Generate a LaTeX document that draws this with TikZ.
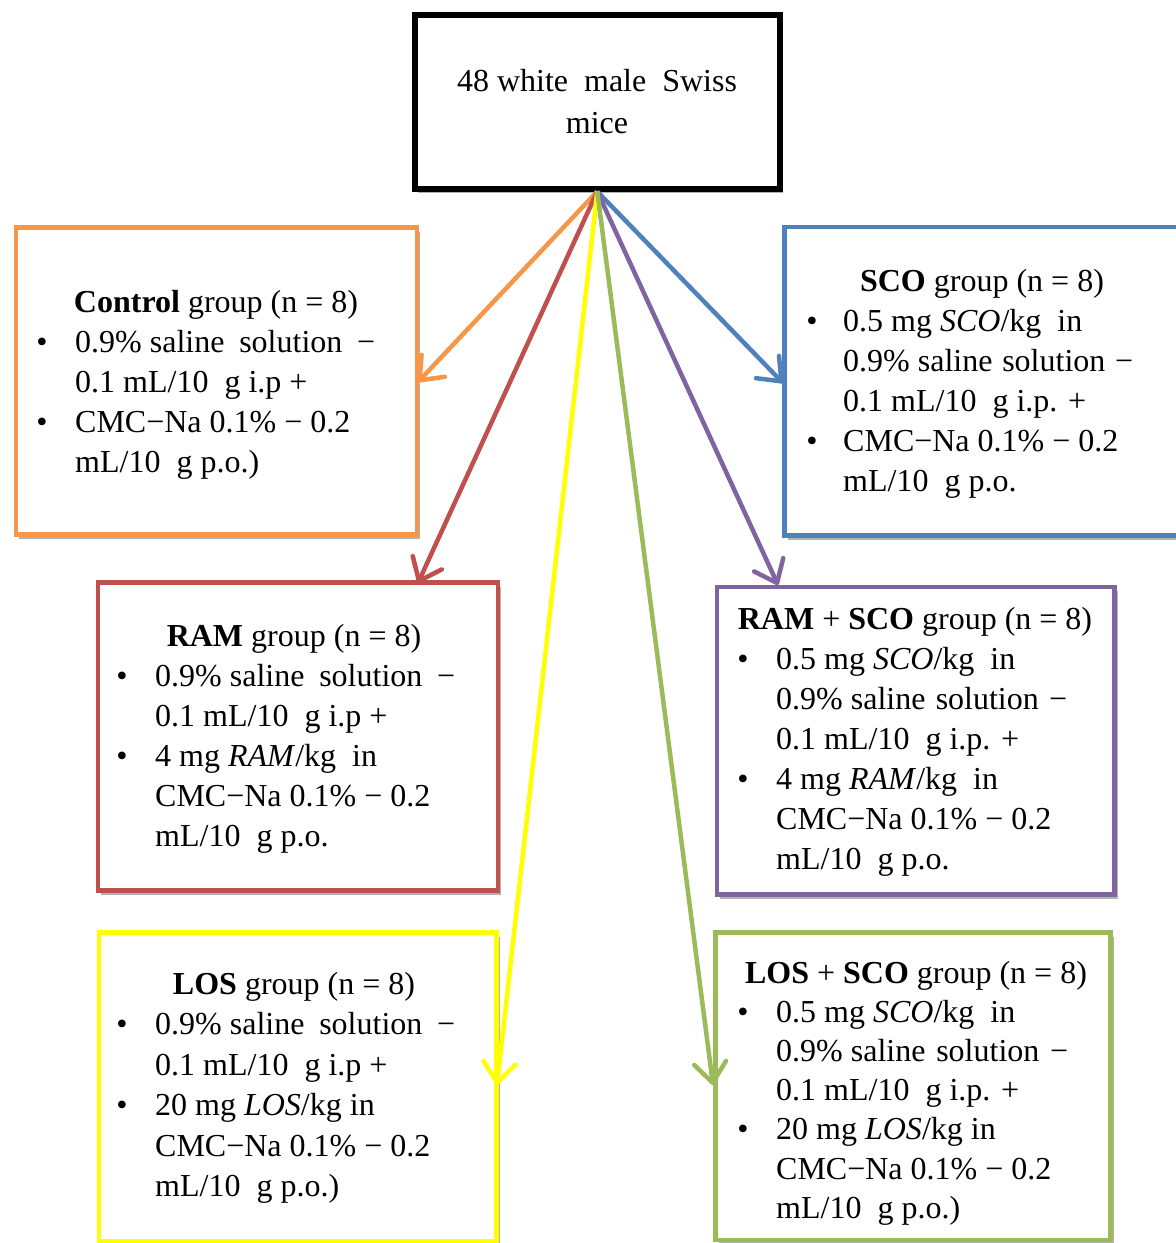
\documentclass[tikz,border=0pt]{standalone}
\usepackage{fontspec}
\setmainfont{Liberation Serif}
\usetikzlibrary{arrows.meta,shadows}
\definecolor{cOrange}{HTML}{F79646}
\definecolor{cBlue}{HTML}{4F81BD}
\definecolor{cRed}{HTML}{C0504D}
\definecolor{cPurple}{HTML}{8064A2}
\definecolor{cYellow}{HTML}{FFFF00}
\definecolor{cGreen}{HTML}{9BBB59}
\newcommand\salline[1]{\makebox[#1][s]{0.9\%~saline\ \hfill solution\ \hfill −}}
\newcommand\glines[5]{\foreach \t [count=\i] in {#5} {\node[txt] (#1-\i) at (#2, {#3 + #4*(\i-1)}) {\t};}}
\begin{document}
\begin{tikzpicture}[x=1pt,y=-1pt,
  gbox/.style={rectangle, draw, line width=4.5pt, fill=white, inner sep=0pt,
    drop shadow={shadow xshift=3pt, shadow yshift=-4pt, opacity=0.3, fill=black}},
  txt/.style={anchor=base west, inner sep=0pt, font=\fontsize{32}{40}\selectfont},
  ttl/.style={anchor=base, inner sep=0pt, font=\fontsize{32}{40}\selectfont},
  bul/.style={anchor=base, inner sep=0pt, font=\fontsize{32}{40}\selectfont},
  arr/.style={line width=4.5pt, -{Straight Barb[length=20pt,width=32pt,round]}}]
\clip (0,0) rectangle (1176,1243);
\fill[white] (0,0) rectangle (1176,1243);

% boxes
\node[gbox, draw=black, line width=6pt, minimum width=365.5pt, minimum height=174pt] (top) at (597.25,101.5) {};
\node[gbox, draw=cOrange, minimum width=401pt, minimum height=307pt] (ctrl) at (216.5,381) {};
\node[gbox, draw=cBlue, minimum width=400.5pt, minimum height=308.5pt] (sco) at (984.75,381.25) {};
\node[gbox, draw=cRed, minimum width=400pt, minimum height=308pt] (ram) at (298,736.5) {};
\node[gbox, draw=cPurple, minimum width=397.5pt, minimum height=307.5pt] (ramsco) at (915.75,740.75) {};
\node[gbox, draw=cYellow, minimum width=397.5pt, minimum height=308.5pt] (los) at (297.75,1086.75) {};
\node[gbox, draw=cGreen, minimum width=395pt, minimum height=307.5pt] (lossco) at (913,1086.25) {};

% top text
\node[ttl] (top-1) at (597,91) {48 white\ \ male\ \ Swiss};
\node[ttl] (top-2) at (597,133) {mice};

% Control
\node[ttl] (ctrl-t) at (216,312) {\textbf{Control} group (n = 8)};
\node[bul] (ctrl-b1) at (42,352) {\textbullet};
\node[bul] (ctrl-b2) at (42,432) {\textbullet};
\glines{ctrl}{75}{352}{40}{\salline{300pt}, 0.1 mL/10\ \ g i.p +, CMC−Na 0.1\% − 0.2, mL/10\ \ g p.o.)}

% SCO
\node[ttl] (sco-t) at (982,291) {\textbf{SCO} group\ (n = 8)};
\node[bul] (sco-b1) at (812,331) {\textbullet};
\node[bul] (sco-b2) at (812,451) {\textbullet};
\glines{sco}{843}{331}{40}{0.5 mg \textit{SCO}/kg\ \ in, \salline{290pt}, 0.1 mL/10\ \ g i.p. +, CMC−Na 0.1\% − 0.2, mL/10\ \ g p.o.}

% RAM
\node[ttl] (ram-t) at (294,646) {\textbf{RAM} group (n = 8)};
\node[bul] (ram-b1) at (122,686) {\textbullet};
\node[bul] (ram-b2) at (122,766) {\textbullet};
\glines{ram}{155}{686}{40}{\salline{300pt}, 0.1 mL/10\ \ g i.p +, 4 mg \textit{RAM}/kg\ \ in, CMC−Na 0.1\% − 0.2, mL/10\ \ g p.o.}

% RAM + SCO
\node[ttl] (ramsco-t) at (915,629) {\textbf{RAM} + \textbf{SCO} group (n = 8)};
\node[bul] (ramsco-b1) at (743,669) {\textbullet};
\node[bul] (ramsco-b2) at (743,789) {\textbullet};
\glines{ramsco}{776}{669}{40}{0.5 mg \textit{SCO}/kg\ \ in, \salline{291pt}, 0.1 mL/10\ \ g i.p. +, 4 mg \textit{RAM}/kg\ \ in, CMC−Na 0.1\% − 0.2, mL/10\ \ g p.o.}

% LOS
\node[ttl] (los-t) at (294,994) {\textbf{LOS} group\ (n = 8)};
\node[bul] (los-b1) at (122,1034.5) {\textbullet};
\node[bul] (los-b2) at (122,1115.5) {\textbullet};
\glines{los}{155}{1034.5}{40.5}{\salline{300pt}, 0.1 mL/10\ \ g i.p +, 20 mg \textit{LOS}/kg in, CMC−Na 0.1\% − 0.2, mL/10\ \ g p.o.)}

% LOS + SCO
\node[ttl] (lossco-t) at (916,983) {\textbf{LOS} + \textbf{SCO} group\ (n = 8)};
\node[bul] (lossco-b1) at (743,1022.2) {\textbullet};
\node[bul] (lossco-b2) at (743,1139.8) {\textbullet};
\glines{lossco}{776}{1022.2}{39.2}{0.5 mg \textit{SCO}/kg\ \ in, \salline{292pt}, 0.1 mL/10\ \ g i.p. +, 20 mg \textit{LOS}/kg in, CMC−Na 0.1\% − 0.2, mL/10\ \ g p.o.)}

% arrow ends
\coordinate (eCtrl) at (418,382);
\coordinate (eSco) at (783,383);
\coordinate (eRam) at (418,583);
\coordinate (eRamSco) at (778,585);
\coordinate (eLos) at (497,1085);
\coordinate (eLosSco) at (713,1085);

\draw[arr, draw=cOrange] (top.south) -- (eCtrl);
\draw[arr, draw=cBlue] (top.south) -- (eSco);
\draw[arr, draw=cRed] (top.south) -- (eRam);
\draw[arr, draw=cPurple] (top.south) -- (eRamSco);
\draw[arr, draw=cYellow] (top.south) -- (eLos);
\draw[arr, draw=cGreen] (top.south) -- (eLosSco);
\end{tikzpicture}
\end{document}
